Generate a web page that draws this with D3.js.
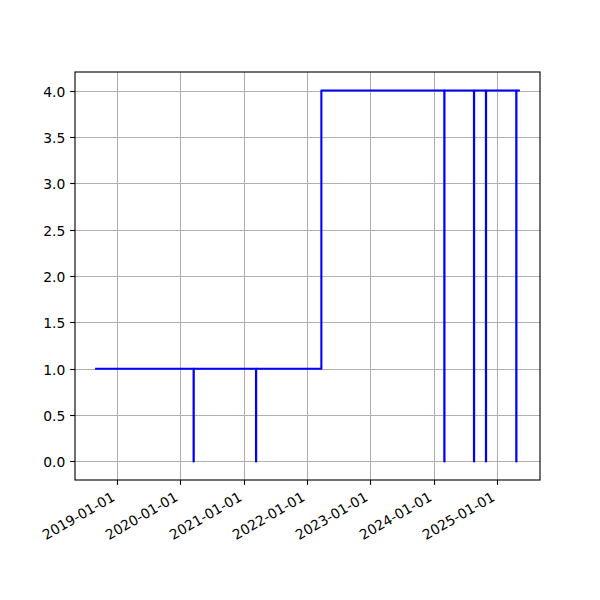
<!DOCTYPE html>
<html>
<head>
<meta charset="utf-8">
<script src="https://cdn.jsdelivr.net/npm/d3@7"></script>
<style>
  html, body { margin: 0; padding: 0; background: #fff; }
  svg { display: block; }
  text { font-family: "DejaVu Sans", sans-serif; fill: #000; }
</style>
</head>
<body>
<div id="chart"></div>
<script>
// Change points of the step series (value holds until the next date)
const dates = ["2018-09-03", "2020-03-18", "2020-03-19", "2021-03-13", "2021-03-14",
               "2022-03-25", "2024-03-03", "2024-03-04", "2024-08-21", "2024-08-22",
               "2024-10-29", "2024-10-30", "2025-04-22", "2025-04-23", "2025-05-07"];
const values = [1, 0, 1, 0, 1, 4, 0, 4, 0, 4, 0, 4, 0, 4, 4];
const xTickLabels = ["2019-01-01", "2020-01-01", "2021-01-01", "2022-01-01",
                     "2023-01-01", "2024-01-01", "2025-01-01"];
const yTickValues = [0, 0.5, 1, 1.5, 2, 2.5, 3, 3.5, 4];

(function () {
const W = 600, H = 600;
const mLeft = 75, mRight = 540, mTop = 72, mBottom = 480;
const parse = d3.utcParse("%Y-%m-%d");
const fmt = d3.utcFormat("%Y-%m-%d");
const data = dates.map((d, i) => ({ date: parse(d), value: values[i] }));

const ext = d3.extent(data, d => d.date);
const span = ext[1] - ext[0];
const x = d3.scaleUtc()
  .domain([new Date(+ext[0] - 0.05 * span), new Date(+ext[1] + 0.05 * span)])
  .range([mLeft, mRight]);
const yExt = d3.extent(values);
const ySpan = yExt[1] - yExt[0];
const y = d3.scaleLinear()
  .domain([yExt[0] - 0.05 * ySpan, yExt[1] + 0.05 * ySpan])
  .range([mBottom, mTop]);

const fs = 13.89;
const svg = d3.select("#chart").append("svg")
  .attr("width", W).attr("height", H);
svg.append("rect").attr("width", W).attr("height", H).attr("fill", "#fff");

const xTicks = xTickLabels.map(parse);
const snap = v => Math.round(v) + 0.5;

// grid
const grid = svg.append("g").attr("stroke", "#b0b0b0").attr("stroke-width", 1.11);
grid.selectAll("line.gx").data(xTicks).join("line").attr("class", "gx")
  .attr("x1", d => snap(x(d))).attr("x2", d => snap(x(d)))
  .attr("y1", mTop).attr("y2", mBottom);
grid.selectAll("line.gy").data(yTickValues).join("line").attr("class", "gy")
  .attr("y1", d => snap(y(d))).attr("y2", d => snap(y(d)))
  .attr("x1", mLeft).attr("x2", mRight);

// step line
const line = d3.line()
  .x(d => x(d.date))
  .y(d => y(d.value))
  .curve(d3.curveStepAfter);
svg.append("path").datum(data)
  .attr("d", line)
  .attr("fill", "none")
  .attr("stroke", "#0000ff")
  .attr("stroke-width", 2.08)
  .attr("stroke-linejoin", "round")
  .attr("stroke-linecap", "square");

// x axis
const xAxis = d3.axisBottom(x).tickValues(xTicks).tickFormat(fmt)
  .tickSize(4.86).tickPadding(4.86);
const gx = svg.append("g").attr("transform", `translate(0,${mBottom})`).call(xAxis);
gx.select(".domain").remove();
gx.selectAll(".tick line").attr("stroke", "#000").attr("stroke-width", 1.11);
gx.selectAll(".tick").attr("transform", d => `translate(${snap(x(d))},0)`);
gx.selectAll(".tick text")
  .attr("font-size", fs)
  .attr("font-family", "DejaVu Sans")
  .attr("fill", "#000")
  .attr("text-anchor", "end")
  .attr("dy", null)
  .attr("y", null)
  .attr("transform", `translate(${-0.5 * 0.24 * fs},${4.86 + 4.86 + 0.866 * 0.76 * fs + 1}) rotate(-30)`);

// y axis
const yAxis = d3.axisLeft(y).tickValues(yTickValues).tickFormat(d3.format(".1f"))
  .tickSize(4.86).tickPadding(4.86);
const gy = svg.append("g").attr("transform", `translate(${mLeft},0)`).call(yAxis);
gy.select(".domain").remove();
gy.selectAll(".tick").attr("transform", d => `translate(0,${snap(y(d))})`);
gy.selectAll(".tick line").attr("stroke", "#000").attr("stroke-width", 1.11);
gy.selectAll(".tick text")
  .attr("font-size", fs)
  .attr("font-family", "DejaVu Sans")
  .attr("fill", "#000")
  .attr("dy", null)
  .attr("y", 5.2);

// spines
svg.append("rect")
  .attr("x", mLeft).attr("y", mTop)
  .attr("width", mRight - mLeft).attr("height", mBottom - mTop)
  .attr("fill", "none").attr("stroke", "#000").attr("stroke-width", 1.11);
})();
</script>
</body>
</html>
